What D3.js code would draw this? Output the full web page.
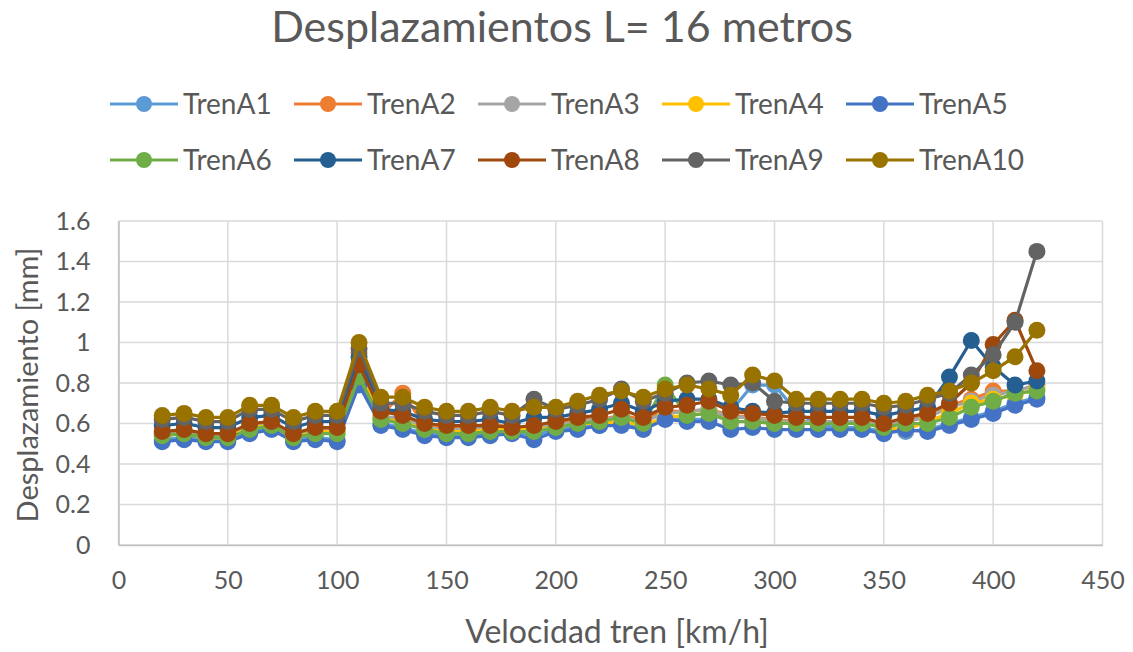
<!DOCTYPE html>
<html>
<head>
<meta charset="utf-8">
<script src="https://cdn.jsdelivr.net/npm/d3@7/dist/d3.min.js"></script>
<style>
  html, body { margin: 0; padding: 0; background: #fff; }
  svg { display: block; font-family: Lato, "Open Sans", "Liberation Sans", sans-serif; }
</style>
</head>
<body>
<svg id="chart" width="1133" height="652"></svg>
<script>
// Train speeds [km/h]
const speeds = [20,30,40,50,60,70,80,90,100,110,120,130,140,150,160,170,180,190,200,210,220,230,240,250,260,270,280,290,300,310,320,330,340,350,360,370,380,390,400,410,420];

// Displacement [mm] per train
const trenA1  = [0.52,0.53,0.52,0.52,0.56,0.58,0.52,0.53,0.52,0.80,0.60,0.58,0.55,0.54,0.54,0.55,0.56,0.54,0.57,0.58,0.59,0.60,0.58,0.63,0.62,0.62,0.66,0.79,0.79,0.66,0.59,0.58,0.58,0.56,0.56,0.57,0.60,0.63,0.66,0.70,0.73];
const trenA2  = [0.55,0.56,0.54,0.54,0.59,0.60,0.54,0.57,0.57,0.95,0.64,0.75,0.59,0.58,0.58,0.60,0.58,0.58,0.60,0.62,0.62,0.64,0.62,0.66,0.66,0.67,0.64,0.63,0.62,0.61,0.61,0.61,0.61,0.59,0.61,0.64,0.69,0.72,0.76,0.76,0.79];
const trenA3  = [0.55,0.56,0.54,0.54,0.59,0.60,0.54,0.57,0.57,0.90,0.63,0.63,0.58,0.57,0.57,0.58,0.57,0.58,0.59,0.61,0.62,0.63,0.61,0.65,0.66,0.67,0.63,0.63,0.61,0.61,0.61,0.61,0.61,0.59,0.61,0.63,0.68,0.71,0.74,0.76,0.79];
const trenA4  = [0.54,0.55,0.53,0.53,0.58,0.59,0.53,0.56,0.56,0.86,0.62,0.61,0.57,0.56,0.56,0.57,0.57,0.57,0.58,0.60,0.60,0.61,0.59,0.63,0.64,0.65,0.61,0.61,0.60,0.60,0.60,0.60,0.60,0.58,0.57,0.61,0.65,0.70,0.72,0.74,0.77];
const trenA5  = [0.51,0.52,0.51,0.51,0.55,0.57,0.51,0.52,0.51,0.79,0.59,0.57,0.54,0.53,0.53,0.54,0.55,0.52,0.56,0.57,0.59,0.59,0.57,0.62,0.61,0.61,0.57,0.58,0.57,0.57,0.57,0.57,0.57,0.55,0.57,0.56,0.59,0.62,0.65,0.69,0.72];
const trenA6  = [0.54,0.55,0.53,0.53,0.57,0.59,0.53,0.55,0.55,0.83,0.62,0.60,0.57,0.55,0.55,0.56,0.56,0.56,0.58,0.60,0.61,0.63,0.60,0.79,0.64,0.65,0.61,0.61,0.60,0.60,0.60,0.60,0.60,0.58,0.60,0.60,0.63,0.68,0.71,0.75,0.76];
const trenA7  = [0.59,0.60,0.58,0.58,0.63,0.64,0.58,0.61,0.61,0.93,0.67,0.66,0.62,0.61,0.61,0.62,0.60,0.63,0.63,0.65,0.67,0.70,0.66,0.71,0.72,0.72,0.68,0.66,0.65,0.66,0.66,0.66,0.66,0.64,0.66,0.68,0.83,1.01,0.88,0.79,0.81];
const trenA8  = [0.56,0.57,0.55,0.55,0.60,0.61,0.55,0.58,0.58,0.89,0.66,0.64,0.60,0.59,0.59,0.59,0.58,0.59,0.61,0.63,0.64,0.67,0.63,0.68,0.69,0.71,0.66,0.65,0.64,0.63,0.63,0.63,0.63,0.60,0.63,0.65,0.70,0.80,0.99,1.11,0.86];
const trenA9  = [0.62,0.63,0.61,0.61,0.67,0.67,0.61,0.64,0.64,0.97,0.70,0.70,0.66,0.64,0.64,0.66,0.64,0.72,0.67,0.69,0.72,0.77,0.71,0.75,0.80,0.81,0.79,0.80,0.71,0.70,0.70,0.70,0.70,0.68,0.69,0.72,0.75,0.84,0.94,1.10,1.45];
const trenA10 = [0.64,0.65,0.63,0.63,0.69,0.69,0.63,0.66,0.66,1.00,0.73,0.73,0.68,0.66,0.66,0.68,0.66,0.68,0.68,0.71,0.74,0.76,0.73,0.77,0.79,0.77,0.74,0.84,0.81,0.72,0.72,0.72,0.72,0.70,0.71,0.74,0.76,0.80,0.86,0.93,1.06];

const seriesNames = ["TrenA1","TrenA2","TrenA3","TrenA4","TrenA5","TrenA6","TrenA7","TrenA8","TrenA9","TrenA10"];
const seriesValues = [trenA1,trenA2,trenA3,trenA4,trenA5,trenA6,trenA7,trenA8,trenA9,trenA10];
const seriesColors = ["#5B9BD5","#ED7D31","#A5A5A5","#FFC000","#4472C4","#70AD47","#255E91","#9E480E","#636363","#997300"];

const xTicks = [0,50,100,150,200,250,300,350,400,450];
const yTicks = [0,0.2,0.4,0.6,0.8,1,1.2,1.4,1.6];

const titleText = "Desplazamientos L= 16 metros";
const xTitle = "Velocidad tren [km/h]";
const yTitle = "Desplazamiento [mm]";

const svg = d3.select("#chart");
const textColor = "#595959";
const plot = { left: 118.5, right: 1102.5, top: 221, bottom: 545 };

const x = d3.scaleLinear().domain([0, 450]).range([plot.left, plot.right]);
const y = d3.scaleLinear().domain([0, 1.6]).range([plot.bottom, plot.top]);

// Title
svg.append("text")
  .attr("x", 562).attr("y", 42)
  .attr("text-anchor", "middle")
  .attr("font-size", 43)
  .attr("fill", textColor)
  .text(titleText);

// Gridlines
const grid = svg.append("g");
grid.selectAll("line.h").data(yTicks).join("line")
  .attr("x1", plot.left).attr("x2", plot.right)
  .attr("y1", d => y(d)).attr("y2", d => y(d))
  .attr("stroke", "#d9d9d9").attr("stroke-width", 1.5);
grid.selectAll("line.v").data(xTicks).join("line")
  .attr("y1", plot.top).attr("y2", plot.bottom)
  .attr("x1", d => x(d)).attr("x2", d => x(d))
  .attr("stroke", "#d9d9d9").attr("stroke-width", 1.5);

// Axes
const yAxis = svg.append("g")
  .attr("transform", `translate(${plot.left},0)`)
  .call(d3.axisLeft(y).tickValues(yTicks).tickSize(0).tickPadding(28).tickFormat(d3.format("~g")));
const xAxis = svg.append("g")
  .attr("transform", `translate(0,${plot.bottom})`)
  .call(d3.axisBottom(x).tickValues(xTicks).tickSize(0).tickPadding(26).tickFormat(d3.format("~g")));
[xAxis, yAxis].forEach(a => {
  a.select(".domain").attr("stroke", "#bfbfbf").attr("stroke-width", 1.5);
  a.selectAll("text").attr("font-size", 25).attr("fill", textColor)
    .attr("font-family", 'Lato, "Open Sans", sans-serif');
});

// Axis titles
svg.append("text")
  .attr("x", 617).attr("y", 643)
  .attr("text-anchor", "middle")
  .attr("font-size", 32).attr("fill", textColor)
  .text(xTitle);
svg.append("text")
  .attr("transform", `translate(38,${(plot.top + plot.bottom) / 2 + 2}) rotate(-90)`)
  .attr("text-anchor", "middle")
  .attr("font-size", 29).attr("fill", textColor)
  .text(yTitle);

// Series
const line = d3.line().x((d, i) => x(speeds[i])).y(d => y(d));
const seriesG = svg.append("g");
seriesValues.forEach((vals, k) => {
  const g = seriesG.append("g");
  g.append("path")
    .attr("d", line(vals))
    .attr("fill", "none")
    .attr("stroke", seriesColors[k])
    .attr("stroke-width", 3.2)
    .attr("stroke-linejoin", "round");
  g.selectAll("circle").data(vals).join("circle")
    .attr("cx", (d, i) => x(speeds[i]))
    .attr("cy", d => y(d))
    .attr("r", 8.5)
    .attr("fill", seriesColors[k]);
});

// Legend
const legend = svg.append("g");
seriesNames.forEach((name, k) => {
  const col = k % 5, row = Math.floor(k / 5);
  const lx = 110 + col * 184, ly = 104 + row * 56;
  const g = legend.append("g").attr("transform", `translate(${lx},${ly})`);
  g.append("line").attr("x1", 0).attr("x2", 68).attr("y1", 0).attr("y2", 0)
    .attr("stroke", seriesColors[k]).attr("stroke-width", 3.2);
  g.append("circle").attr("cx", 34).attr("cy", 0).attr("r", 8).attr("fill", seriesColors[k]);
  g.append("text").attr("x", 73).attr("y", 0).attr("dy", "0.36em")
    .attr("font-size", 28).attr("fill", textColor).text(name);
});
</script>
</body>
</html>
